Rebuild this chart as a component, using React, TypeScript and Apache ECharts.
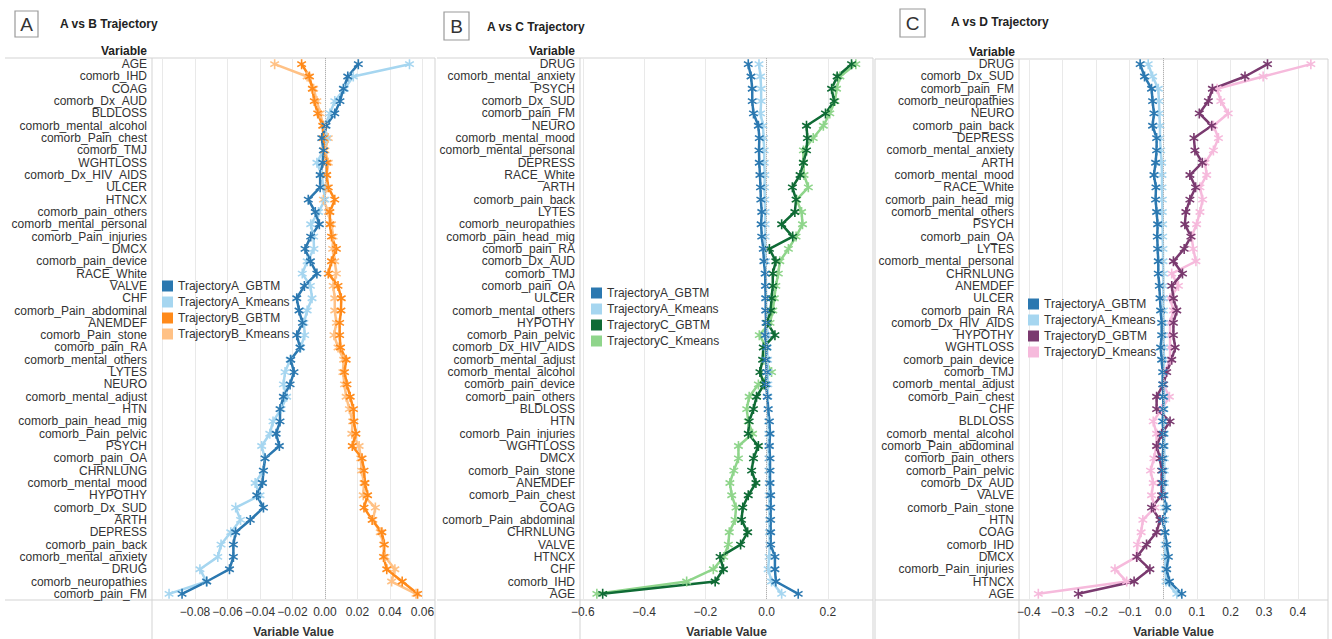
import React, { useEffect, useRef } from 'react';
import * as echarts from 'echarts';

// ---------- Panel A: A vs B ----------
const catsAB = ['AGE','comorb_IHD','COAG','comorb_Dx_AUD','BLDLOSS','comorb_mental_alcohol','comorb_Pain_chest','comorb_TMJ','WGHTLOSS','comorb_Dx_HIV_AIDS','ULCER','HTNCX','comorb_pain_others','comorb_mental_personal','comorb_Pain_injuries','DMCX','comorb_pain_device','RACE_White','VALVE','CHF','comorb_Pain_abdominal','ANEMDEF','comorb_Pain_stone','comorb_pain_RA','comorb_mental_others','LYTES','NEURO','comorb_mental_adjust','HTN','comorb_pain_head_mig','comorb_Pain_pelvic','PSYCH','comorb_pain_OA','CHRNLUNG','comorb_mental_mood','HYPOTHY','comorb_Dx_SUD','ARTH','DEPRESS','comorb_pain_back','comorb_mental_anxiety','DRUG','comorb_neuropathies','comorb_pain_FM'];
const abA_GBTM = [0.0205, 0.014, 0.0113, 0.0092, 0.006, 0.0006, -0.002, -0.001, -0.0014, -0.003, -0.003, -0.0103, -0.006, -0.0035, -0.0088, -0.0123, -0.009, -0.005, -0.0127, -0.0174, -0.016, -0.0139, -0.0174, -0.0154, -0.0211, -0.0191, -0.0215, -0.0256, -0.0277, -0.0277, -0.0301, -0.0281, -0.0369, -0.0379, -0.0385, -0.042, -0.0379, -0.046, -0.055, -0.0564, -0.0564, -0.0588, -0.0728, -0.088];
const abA_Kmeans = [0.052, 0.0174, 0.012, 0.006, 0.003, 0, 0.001, -0.001, -0.005, -0.002, -0.001, 0, -0.004, -0.0088, -0.007, -0.0068, -0.011, -0.014, -0.009, -0.008, -0.011, -0.013, -0.0125, -0.015, -0.0215, -0.0246, -0.0256, -0.0236, -0.027, -0.032, -0.034, -0.039, -0.037, -0.038, -0.043, -0.04, -0.055, -0.052, -0.058, -0.064, -0.066, -0.077, -0.073, -0.096];
const abB_GBTM = [-0.0144, -0.0096, -0.0078, -0.0066, -0.0045, -0.0014, -0.001, -0.0006, 0.001, 0.001, 0.002, 0.006, 0.003, 0.003, 0.004, 0.007, 0.004, 0.002, 0.008, 0.01, 0.0098, 0.009, 0.009, 0.0095, 0.013, 0.012, 0.0135, 0.0155, 0.0175, 0.0178, 0.019, 0.0168, 0.0228, 0.024, 0.0246, 0.0262, 0.024, 0.029, 0.035, 0.0365, 0.036, 0.038, 0.0475, 0.057];
const abB_Kmeans = [-0.031, -0.011, -0.007, -0.005, -0.003, -0.001, 0.002, 0, 0.002, 0.001, 0.001, -0.001, 0.002, 0.004, 0.005, 0.0047, 0.006, 0.007, 0.005, 0.006, 0.006, 0.007, 0.0055, 0.008, 0.0115, 0.011, 0.012, 0.013, 0.015, 0.017, 0.0165, 0.021, 0.022, 0.0225, 0.024, 0.0235, 0.031, 0.0295, 0.034, 0.036, 0.037, 0.043, 0.041, 0.056];
const ticksAB = [-0.1, -0.08, -0.06, -0.04, -0.02, 0, 0.02, 0.04, 0.06];
const labelsAB = [-0.08, -0.06, -0.04, -0.02, 0, 0.02, 0.04, 0.06];

// ---------- Panel B: A vs C ----------
const catsAC = ['DRUG','comorb_mental_anxiety','PSYCH','comorb_Dx_SUD','comorb_pain_FM','NEURO','comorb_mental_mood','comorb_mental_personal','DEPRESS','RACE_White','ARTH','comorb_pain_back','LYTES','comorb_neuropathies','comorb_pain_head_mig','comorb_pain_RA','comorb_Dx_AUD','comorb_TMJ','comorb_pain_OA','ULCER','comorb_mental_others','HYPOTHY','comorb_Pain_pelvic','comorb_Dx_HIV_AIDS','comorb_mental_adjust','comorb_mental_alcohol','comorb_pain_device','comorb_pain_others','BLDLOSS','HTN','comorb_Pain_injuries','WGHTLOSS','DMCX','comorb_Pain_stone','ANEMDEF','comorb_Pain_chest','COAG','comorb_Pain_abdominal','CHRNLUNG','VALVE','HTNCX','CHF','comorb_IHD','AGE'];
const acA_GBTM = [-0.06, -0.051, -0.047, -0.047, -0.043, -0.027, -0.024, -0.025, -0.024, -0.022, -0.02, -0.019, -0.016, -0.018, -0.016, -0.011, -0.009, -0.005, -0.004, -0.003, -0.003, -0.002, -0.005, 0, -0.002, 0, -0.002, 0.002, 0.005, 0.009, 0.011, 0.009, 0.011, 0.011, 0.011, 0.013, 0.013, 0.013, 0.013, 0.013, 0.027, 0.027, 0.03, 0.103];
const acA_Kmeans = [-0.025, -0.02, -0.018, -0.018, -0.02, -0.012, -0.01, -0.008, -0.008, -0.006, -0.007, -0.006, -0.005, -0.005, -0.005, -0.004, -0.003, -0.003, -0.002, -0.002, -0.001, 0, 0.003, 0.002, 0.003, 0.004, 0.004, 0.004, 0.005, 0.006, 0.007, 0.006, 0.007, 0.007, 0.008, 0.008, 0.009, 0.009, 0.009, 0.01, 0.008, 0.005, 0.016, 0.049];
const acC_GBTM = [0.277, 0.23, 0.212, 0.22, 0.192, 0.13, 0.133, 0.13, 0.12, 0.109, 0.084, 0.096, 0.092, 0.049, 0.085, 0.009, 0.03, 0.02, 0.02, 0.016, 0.013, 0.002, 0.027, -0.011, -0.013, -0.022, -0.008, -0.033, -0.043, -0.057, -0.06, -0.027, -0.043, -0.049, -0.035, -0.06, -0.078, -0.082, -0.062, -0.085, -0.152, -0.141, -0.168, -0.535];
const acC_Kmeans = [0.291, 0.239, 0.228, 0.223, 0.206, 0.185, 0.152, 0.12, 0.12, 0.122, 0.136, 0.098, 0.114, 0.117, 0.096, 0.071, 0.043, 0.038, 0.03, 0.025, 0.02, 0.011, -0.024, 0, -0.005, 0.016, -0.027, -0.057, -0.065, -0.06, -0.046, -0.092, -0.092, -0.107, -0.12, -0.114, -0.1, -0.103, -0.122, -0.125, -0.14, -0.174, -0.261, -0.554];
const ticksAC = [-0.6, -0.4, -0.2, 0, 0.2];

// ---------- Panel C: A vs D ----------
const catsAD = ['DRUG','comorb_Dx_SUD','comorb_pain_FM','comorb_neuropathies','NEURO','comorb_pain_back','DEPRESS','comorb_mental_anxiety','ARTH','comorb_mental_mood','RACE_White','comorb_pain_head_mig','comorb_mental_others','PSYCH','comorb_pain_OA','LYTES','comorb_mental_personal','CHRNLUNG','ANEMDEF','ULCER','comorb_pain_RA','comorb_Dx_HIV_AIDS','HYPOTHY','WGHTLOSS','comorb_pain_device','comorb_TMJ','comorb_mental_adjust','comorb_Pain_chest','CHF','BLDLOSS','comorb_mental_alcohol','comorb_Pain_abdominal','comorb_pain_others','comorb_Pain_pelvic','comorb_Dx_AUD','VALVE','comorb_Pain_stone','HTN','COAG','comorb_IHD','DMCX','comorb_Pain_injuries','HTNCX','AGE'];
const adA_GBTM = [-0.069, -0.056, -0.035, -0.032, -0.028, -0.032, -0.02, -0.02, -0.023, -0.028, -0.022, -0.023, -0.02, -0.017, -0.018, -0.017, -0.015, -0.015, -0.012, -0.01, -0.008, -0.005, -0.005, -0.008, -0.005, -0.002, -0.002, 0, 0, -0.002, 0, 0, -0.002, -0.002, -0.002, 0, 0.01, -0.002, 0.005, 0.01, 0.015, 0.01, 0.018, 0.055];
const adA_Kmeans = [-0.045, -0.032, -0.015, -0.013, -0.012, -0.01, -0.01, -0.008, -0.005, -0.004, -0.004, -0.003, -0.003, -0.002, -0.002, -0.001, -0.001, 0, 0, 0, 0, 0.001, 0.001, 0.001, 0.002, 0.002, 0.002, 0.002, 0.002, 0.002, 0.003, 0.003, 0.003, 0.003, 0.003, 0.003, 0.004, 0.004, 0.004, 0.005, 0.006, 0.006, 0.008, 0.04];
const adD_GBTM = [0.31, 0.243, 0.146, 0.134, 0.107, 0.144, 0.091, 0.094, 0.116, 0.079, 0.096, 0.079, 0.067, 0.064, 0.082, 0.062, 0.03, 0.057, 0.025, 0.03, 0.04, 0.03, 0.03, 0.035, 0.025, 0.01, 0, -0.02, -0.02, 0.02, -0.005, -0.02, -0.01, -0.005, -0.005, -0.005, -0.035, -0.01, -0.02, -0.05, -0.079, -0.04, -0.087, -0.253];
const adD_Kmeans = [0.439, 0.297, 0.16, 0.171, 0.193, 0.149, 0.164, 0.149, 0.124, 0.129, 0.109, 0.117, 0.109, 0.099, 0.084, 0.089, 0.097, 0.025, 0.045, 0.02, 0.03, 0.02, 0.02, 0.02, 0.02, 0.005, 0, 0.018, -0.005, -0.03, -0.02, -0.02, -0.028, -0.038, -0.03, -0.035, -0.025, -0.061, -0.066, -0.077, -0.08, -0.144, -0.109, -0.372];
const ticksAD = [-0.4, -0.3, -0.2, -0.1, 0, 0.1, 0.2, 0.3, 0.4];

const COL = {
  A_GBTM: '#2b78b0',
  A_Kmeans: '#a6d6f0',
  B_GBTM: '#ff8a1a',
  B_Kmeans: '#ffc185',
  C_GBTM: '#0f6b35',
  C_Kmeans: '#8fd58b',
  D_GBTM: '#7a3a6f',
  D_Kmeans: '#f6badc',
};

const STAR = 'path://M42 0L58 0L58 100L42 100ZM89.3 18.1L97.3 31.9L10.7 81.9L2.7 68.1ZM97.3 68.1L89.3 81.9L2.7 31.9L10.7 18.1Z';
const FONT = "'Liberation Sans', Arial, sans-serif";
const BORDER = '#d3d3d3';

function fmt(dec: number) {
  return (v: number) => {
    const s = Math.abs(v).toFixed(dec);
    return v < -1e-9 ? '\u2212' + s : s;
  };
}

function mkSeries(name: string, data: number[], color: string, gi: number, zero: boolean) {
  const s: any = {
    name, type: 'line', xAxisIndex: gi, yAxisIndex: gi, data,
    symbol: STAR, symbolSize: 10, symbolKeepAspect: true,
    lineStyle: { width: 2.5, color },
    itemStyle: { color },
    emphasis: { disabled: true },
  };
  if (zero) {
    s.markLine = {
      silent: true, symbol: 'none', label: { show: false },
      lineStyle: { type: 'dotted', color: '#b0b0b0', width: 1 },
      data: [{ xAxis: 0 }],
    };
  }
  return s;
}

function mkX(gi: number, min: number, max: number, ticks: number[], labels: number[], dec: number) {
  return {
    type: 'value', gridIndex: gi, min, max,
    axisLine: { show: false },
    axisTick: { show: false, customValues: ticks },
    axisLabel: { customValues: labels, formatter: fmt(dec), fontSize: 12, color: '#333', fontFamily: FONT, margin: 6 },
    splitLine: { show: true, lineStyle: { color: '#e9e9e9', width: 1 } },
    name: 'Variable Value', nameLocation: 'middle', nameGap: 26,
    nameTextStyle: { fontWeight: 'bold', fontSize: 12, color: '#333', fontFamily: FONT },
  };
}

function mkY(gi: number, cats: string[]) {
  return {
    type: 'category', gridIndex: gi, data: cats, inverse: true,
    axisLine: { show: false }, axisTick: { show: false }, splitLine: { show: false },
    axisLabel: { interval: 0, fontSize: 12, color: '#333', fontFamily: FONT, margin: 5 },
  };
}

function mkLegend(left: number, top: number, names: string[]) {
  return {
    orient: 'vertical', left, top, data: names, icon: 'rect',
    itemWidth: 11, itemHeight: 11, itemGap: 4, selectedMode: false,
    textStyle: { fontSize: 12, color: '#333', fontFamily: FONT },
  };
}

function line(x1: number, y1: number, x2: number, y2: number) {
  return { type: 'line', silent: true, shape: { x1, y1, x2, y2 }, style: { stroke: BORDER, lineWidth: 1 } };
}

function box(x: number, y: number, w: number, h: number, letter: string) {
  return [
    { type: 'rect', silent: true, shape: { x, y, width: w, height: h }, style: { fill: '#fff', stroke: '#9a9a9a', lineWidth: 1.2 } },
    { type: 'text', silent: true, x: x + w / 2, y: y + h / 2, style: { text: letter, font: `19px ${FONT}`, fill: '#333', align: 'center', verticalAlign: 'middle' } },
  ];
}

function txt(x: number, y: number, text: string, align: string, bold = true, size = 12) {
  return { type: 'text', silent: true, x, y, style: { text, font: `${bold ? 'bold ' : ''}${size}px ${FONT}`, fill: '#222', align, verticalAlign: 'middle' } };
}

const GRID_BASE = { top: 58, height: 542, outerBoundsMode: 'none', containLabel: false };

export default function App() {
  const ref = useRef<HTMLDivElement>(null);
  useEffect(() => {
    document.body.style.margin = '0';
    const chart = echarts.init(ref.current!, null, { renderer: 'svg' });
    const option: any = {
      animation: false,
      backgroundColor: '#fff',
      grid: [
        { ...GRID_BASE, left: 152, width: 283 },
        { ...GRID_BASE, left: 580, width: 293 },
        { ...GRID_BASE, left: 1019, width: 309 },
      ],
      xAxis: [
        mkX(0, -0.1065, 0.0677, ticksAB, labelsAB, 2),
        mkX(1, -0.609, 0.347, ticksAC, ticksAC, 1),
        mkX(2, -0.4295, 0.49, ticksAD, ticksAD, 1),
      ],
      yAxis: [mkY(0, catsAB), mkY(1, catsAC), mkY(2, catsAD)],
      legend: [
        mkLegend(157, 275, ['TrajectoryA_GBTM', 'TrajectoryA_Kmeans', 'TrajectoryB_GBTM', 'TrajectoryB_Kmeans']),
        mkLegend(586, 282, ['TrajectoryA_GBTM', 'TrajectoryA_Kmeans', 'TrajectoryC_GBTM', 'TrajectoryC_Kmeans']),
        mkLegend(1023, 293, ['TrajectoryA_GBTM', 'TrajectoryA_Kmeans', 'TrajectoryD_GBTM', 'TrajectoryD_Kmeans']),
      ],
      series: [
        mkSeries('TrajectoryB_Kmeans', abB_Kmeans, COL.B_Kmeans, 0, true),
        mkSeries('TrajectoryA_Kmeans', abA_Kmeans, COL.A_Kmeans, 0, false),
        mkSeries('TrajectoryB_GBTM', abB_GBTM, COL.B_GBTM, 0, false),
        mkSeries('TrajectoryA_GBTM', abA_GBTM, COL.A_GBTM, 0, false),

        mkSeries('TrajectoryC_Kmeans', acC_Kmeans, COL.C_Kmeans, 1, true),
        mkSeries('TrajectoryA_Kmeans', acA_Kmeans, COL.A_Kmeans, 1, false),
        mkSeries('TrajectoryC_GBTM', acC_GBTM, COL.C_GBTM, 1, false),
        mkSeries('TrajectoryA_GBTM', acA_GBTM, COL.A_GBTM, 1, false),

        mkSeries('TrajectoryD_Kmeans', adD_Kmeans, COL.D_Kmeans, 2, true),
        mkSeries('TrajectoryA_Kmeans', adA_Kmeans, COL.A_Kmeans, 2, false),
        mkSeries('TrajectoryD_GBTM', adD_GBTM, COL.D_GBTM, 2, false),
        mkSeries('TrajectoryA_GBTM', adA_GBTM, COL.A_GBTM, 2, false),
      ],
      graphic: [
        // panel frames
        line(5, 58, 435, 58), line(5, 600, 435, 600),
        line(152, 58, 152, 639), line(435, 58, 435, 639),
        line(437, 58, 873, 58), line(437, 600, 873, 600),
        line(580, 58, 580, 639), line(873, 58, 873, 639),
        line(875, 59, 1328, 59), line(875, 600, 1328, 600),
        line(875, 59, 875, 639), line(1019, 59, 1019, 639), line(1328, 59, 1328, 639),
        // letter boxes
        ...box(15, 11, 23, 26, 'A'),
        ...box(444, 12, 25, 28, 'B'),
        ...box(900, 9, 25, 28, 'C'),
        // titles
        txt(60, 24, 'A vs B Trajectory', 'left'),
        txt(487, 27, 'A vs C Trajectory', 'left'),
        txt(951, 22, 'A vs D Trajectory', 'left'),
        // header
        txt(147, 51, 'Variable', 'right'),
        txt(575, 51, 'Variable', 'right'),
        txt(1015, 52, 'Variable', 'right'),
      ],
    };
    chart.setOption(option);
    return () => chart.dispose();
  }, []);
  return <div ref={ref} style={{ width: 1332, height: 639, position: 'absolute', left: 0, top: 0 }} />;
}
